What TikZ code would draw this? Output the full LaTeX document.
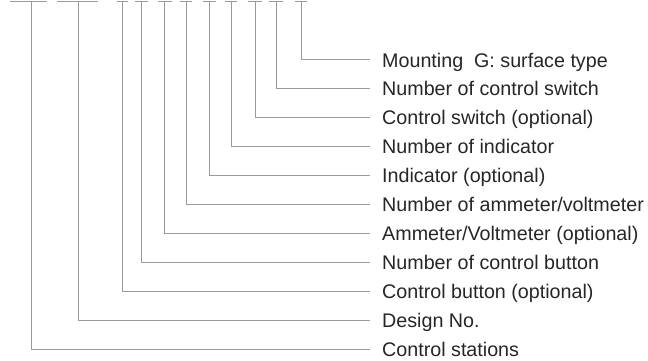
\documentclass[tikz,border=0pt]{standalone}
\usepackage{fontspec}
\setmainfont{Liberation Sans}
\definecolor{ln}{HTML}{9A9A9A}
\begin{document}
\begin{tikzpicture}[x=1pt,y=-1pt,
  lbl/.style={anchor=base west,inner sep=0pt,font=\fontsize{19.7}{22}\selectfont,text=black!85},
  con/.style={draw=ln,line width=1pt},
  bar/.style={draw=ln,line width=1.1pt}]
\useasboundingbox (0,0) rectangle (648,361);
\foreach \i/\x/\a/\b/\t in {
  0/301/295/307/{Mounting\ \ G: surface type},
  1/276/269/283/{Number of control switch},
  2/255/248/262/{Control switch (optional)},
  3/231/225/237/{Number of indicator},
  4/209/203/216/{Indicator (optional)},
  5/186/180/192/{Number of ammeter/voltmeter},
  6/164/158/172/{Ammeter/Voltmeter (optional)},
  7/141/135/148/{Number of control button},
  8/122/117/128/{Control button (optional)},
  9/78/57/98/{Design No.},
  10/31/10/47/{Control stations}}{
  \pgfmathsetmacro{\yy}{60+28.9*\i}
  \node[lbl] (t\i) at (382,\yy+7) {\t};
  \coordinate (top\i) at (\x,1.5);
  \coordinate (bl\i) at (\a,1.5);
  \coordinate (br\i) at (\b,1.5);
  \coordinate (e\i) at (370,\yy);
  \draw[bar] (bl\i) -- (br\i);
  \draw[con] (top\i) |- (e\i);
}
\end{tikzpicture}
\end{document}
